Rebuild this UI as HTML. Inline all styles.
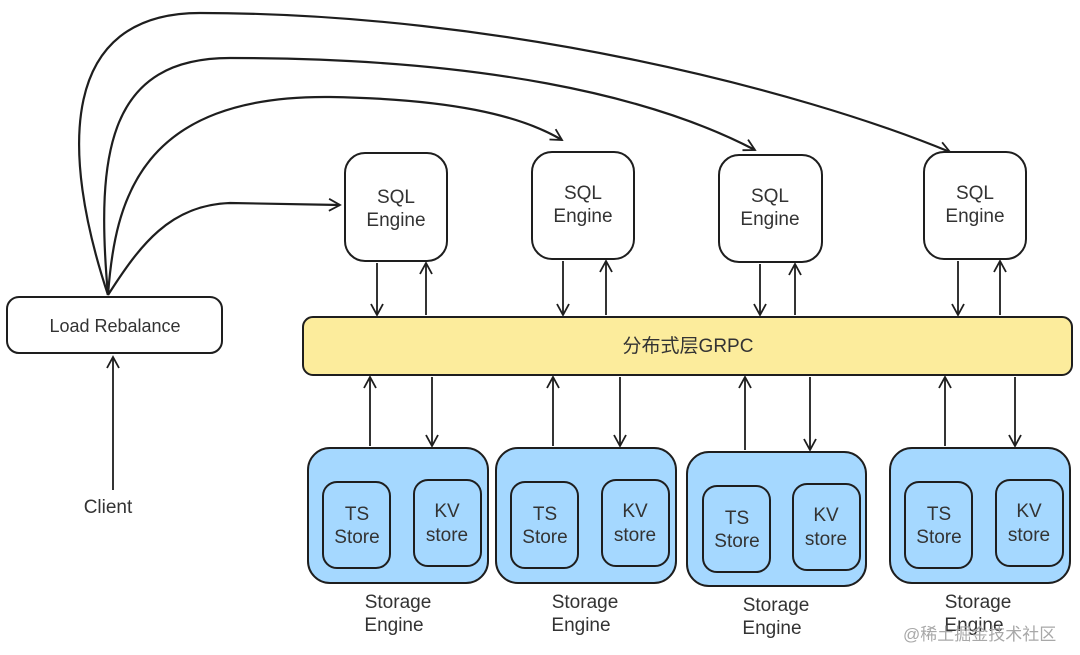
<!DOCTYPE html>
<html><head><meta charset="utf-8"><style>
body{margin:0;background:#fff;}
svg text{font-family:"Liberation Sans","Noto Sans CJK SC",sans-serif;fill:#333;}
</style></head><body>
<svg width="1080" height="650" viewBox="0 0 1080 650" xmlns="http://www.w3.org/2000/svg">
<defs><marker id="a" markerWidth="14" markerHeight="14" refX="12" refY="7" orient="auto" markerUnits="userSpaceOnUse"><path d="M1,1 L12,7 L1,13" fill="none" stroke="#1e1e1e" stroke-width="1.8"/></marker></defs>
<g fill="none" stroke="#1e1e1e" stroke-width="2.2">
<path d="M108,295 C140,245 170,205 230,203 L340,205" marker-end="url(#a)"/>
<path d="M108,295 C115,200 140,95 330,97 C450,99 520,115 562,140" marker-end="url(#a)"/>
<path d="M108,295 C95,150 110,58 230,58 C480,58 650,95 755,150" marker-end="url(#a)"/>
<path d="M108,295 C60,150 60,13 200,13 C500,13 800,90 950,152" marker-end="url(#a)"/>
</g>
<g fill="#fff" stroke="#1e1e1e" stroke-width="2">
<rect x="7" y="297" width="215" height="56" rx="12"/>
<rect x="345" y="153" width="102" height="108" rx="20"/>
<rect x="532" y="152" width="102" height="107" rx="20"/>
<rect x="719" y="155" width="103" height="107" rx="20"/>
<rect x="924" y="152" width="102" height="107" rx="20"/>
<rect x="303" y="317" width="769" height="58" rx="10" fill="#fcec9c"/>
</g>
<g fill="#a5d8ff" stroke="#1e1e1e" stroke-width="2">
<rect x="308" y="448" width="180" height="135" rx="22"/>
<rect x="496" y="448" width="180" height="135" rx="22"/>
<rect x="687" y="452" width="179" height="134" rx="22"/>
<rect x="890" y="448" width="180" height="135" rx="22"/>
<rect x="323" y="482" width="67" height="86" rx="14"/>
<rect x="414" y="480" width="67" height="86" rx="14"/>
<rect x="511" y="482" width="67" height="86" rx="14"/>
<rect x="602" y="480" width="67" height="86" rx="14"/>
<rect x="703" y="486" width="67" height="86" rx="14"/>
<rect x="793" y="484" width="67" height="86" rx="14"/>
<rect x="905" y="482" width="67" height="86" rx="14"/>
<rect x="996" y="480" width="67" height="86" rx="14"/>
</g>
<g fill="none" stroke="#1e1e1e" stroke-width="1.8">
<path d="M377,263 L377,315" marker-end="url(#a)"/><path d="M426,315 L426,263" marker-end="url(#a)"/>
<path d="M563,261 L563,315" marker-end="url(#a)"/><path d="M606,315 L606,261" marker-end="url(#a)"/>
<path d="M760,264 L760,315" marker-end="url(#a)"/><path d="M795,315 L795,264" marker-end="url(#a)"/>
<path d="M958,261 L958,315" marker-end="url(#a)"/><path d="M1000,315 L1000,261" marker-end="url(#a)"/>
<path d="M370,446 L370,377" marker-end="url(#a)"/><path d="M432,377 L432,446" marker-end="url(#a)"/>
<path d="M553,446 L553,377" marker-end="url(#a)"/><path d="M620,377 L620,446" marker-end="url(#a)"/>
<path d="M745,450 L745,377" marker-end="url(#a)"/><path d="M810,377 L810,450" marker-end="url(#a)"/>
<path d="M945,446 L945,377" marker-end="url(#a)"/><path d="M1015,377 L1015,446" marker-end="url(#a)"/>
<path d="M113,490 L113,357" marker-end="url(#a)"/>
</g>
<g font-size="19" text-anchor="middle">
<text x="115" y="332" font-size="18">Load Rebalance</text>
<text x="396" y="203">SQL</text><text x="396" y="226">Engine</text>
<text x="583" y="199">SQL</text><text x="583" y="222">Engine</text>
<text x="770" y="202">SQL</text><text x="770" y="225">Engine</text>
<text x="975" y="199">SQL</text><text x="975" y="222">Engine</text>
<text x="688" y="352">分布式层GRPC</text>
<text x="108" y="513">Client</text>
<text x="357" y="520">TS</text><text x="357" y="543">Store</text>
<text x="447" y="517">KV</text><text x="447" y="541">store</text>
<text x="545" y="520">TS</text><text x="545" y="543">Store</text>
<text x="635" y="517">KV</text><text x="635" y="541">store</text>
<text x="737" y="524">TS</text><text x="737" y="547">Store</text>
<text x="826" y="521">KV</text><text x="826" y="545">store</text>
<text x="939" y="520">TS</text><text x="939" y="543">Store</text>
<text x="1029" y="517">KV</text><text x="1029" y="541">store</text>
<text x="398" y="608">Storage</text><text x="394" y="631">Engine</text>
<text x="585" y="608">Storage</text><text x="581" y="631">Engine</text>
<text x="776" y="611">Storage</text><text x="772" y="634">Engine</text>
<text x="978" y="608">Storage</text><text x="974" y="631">Engine</text>
</g>
<text x="903" y="640" font-size="17" style="fill:#a8a8a8">@稀土掘金技术社区</text>
</svg>
</body></html>
